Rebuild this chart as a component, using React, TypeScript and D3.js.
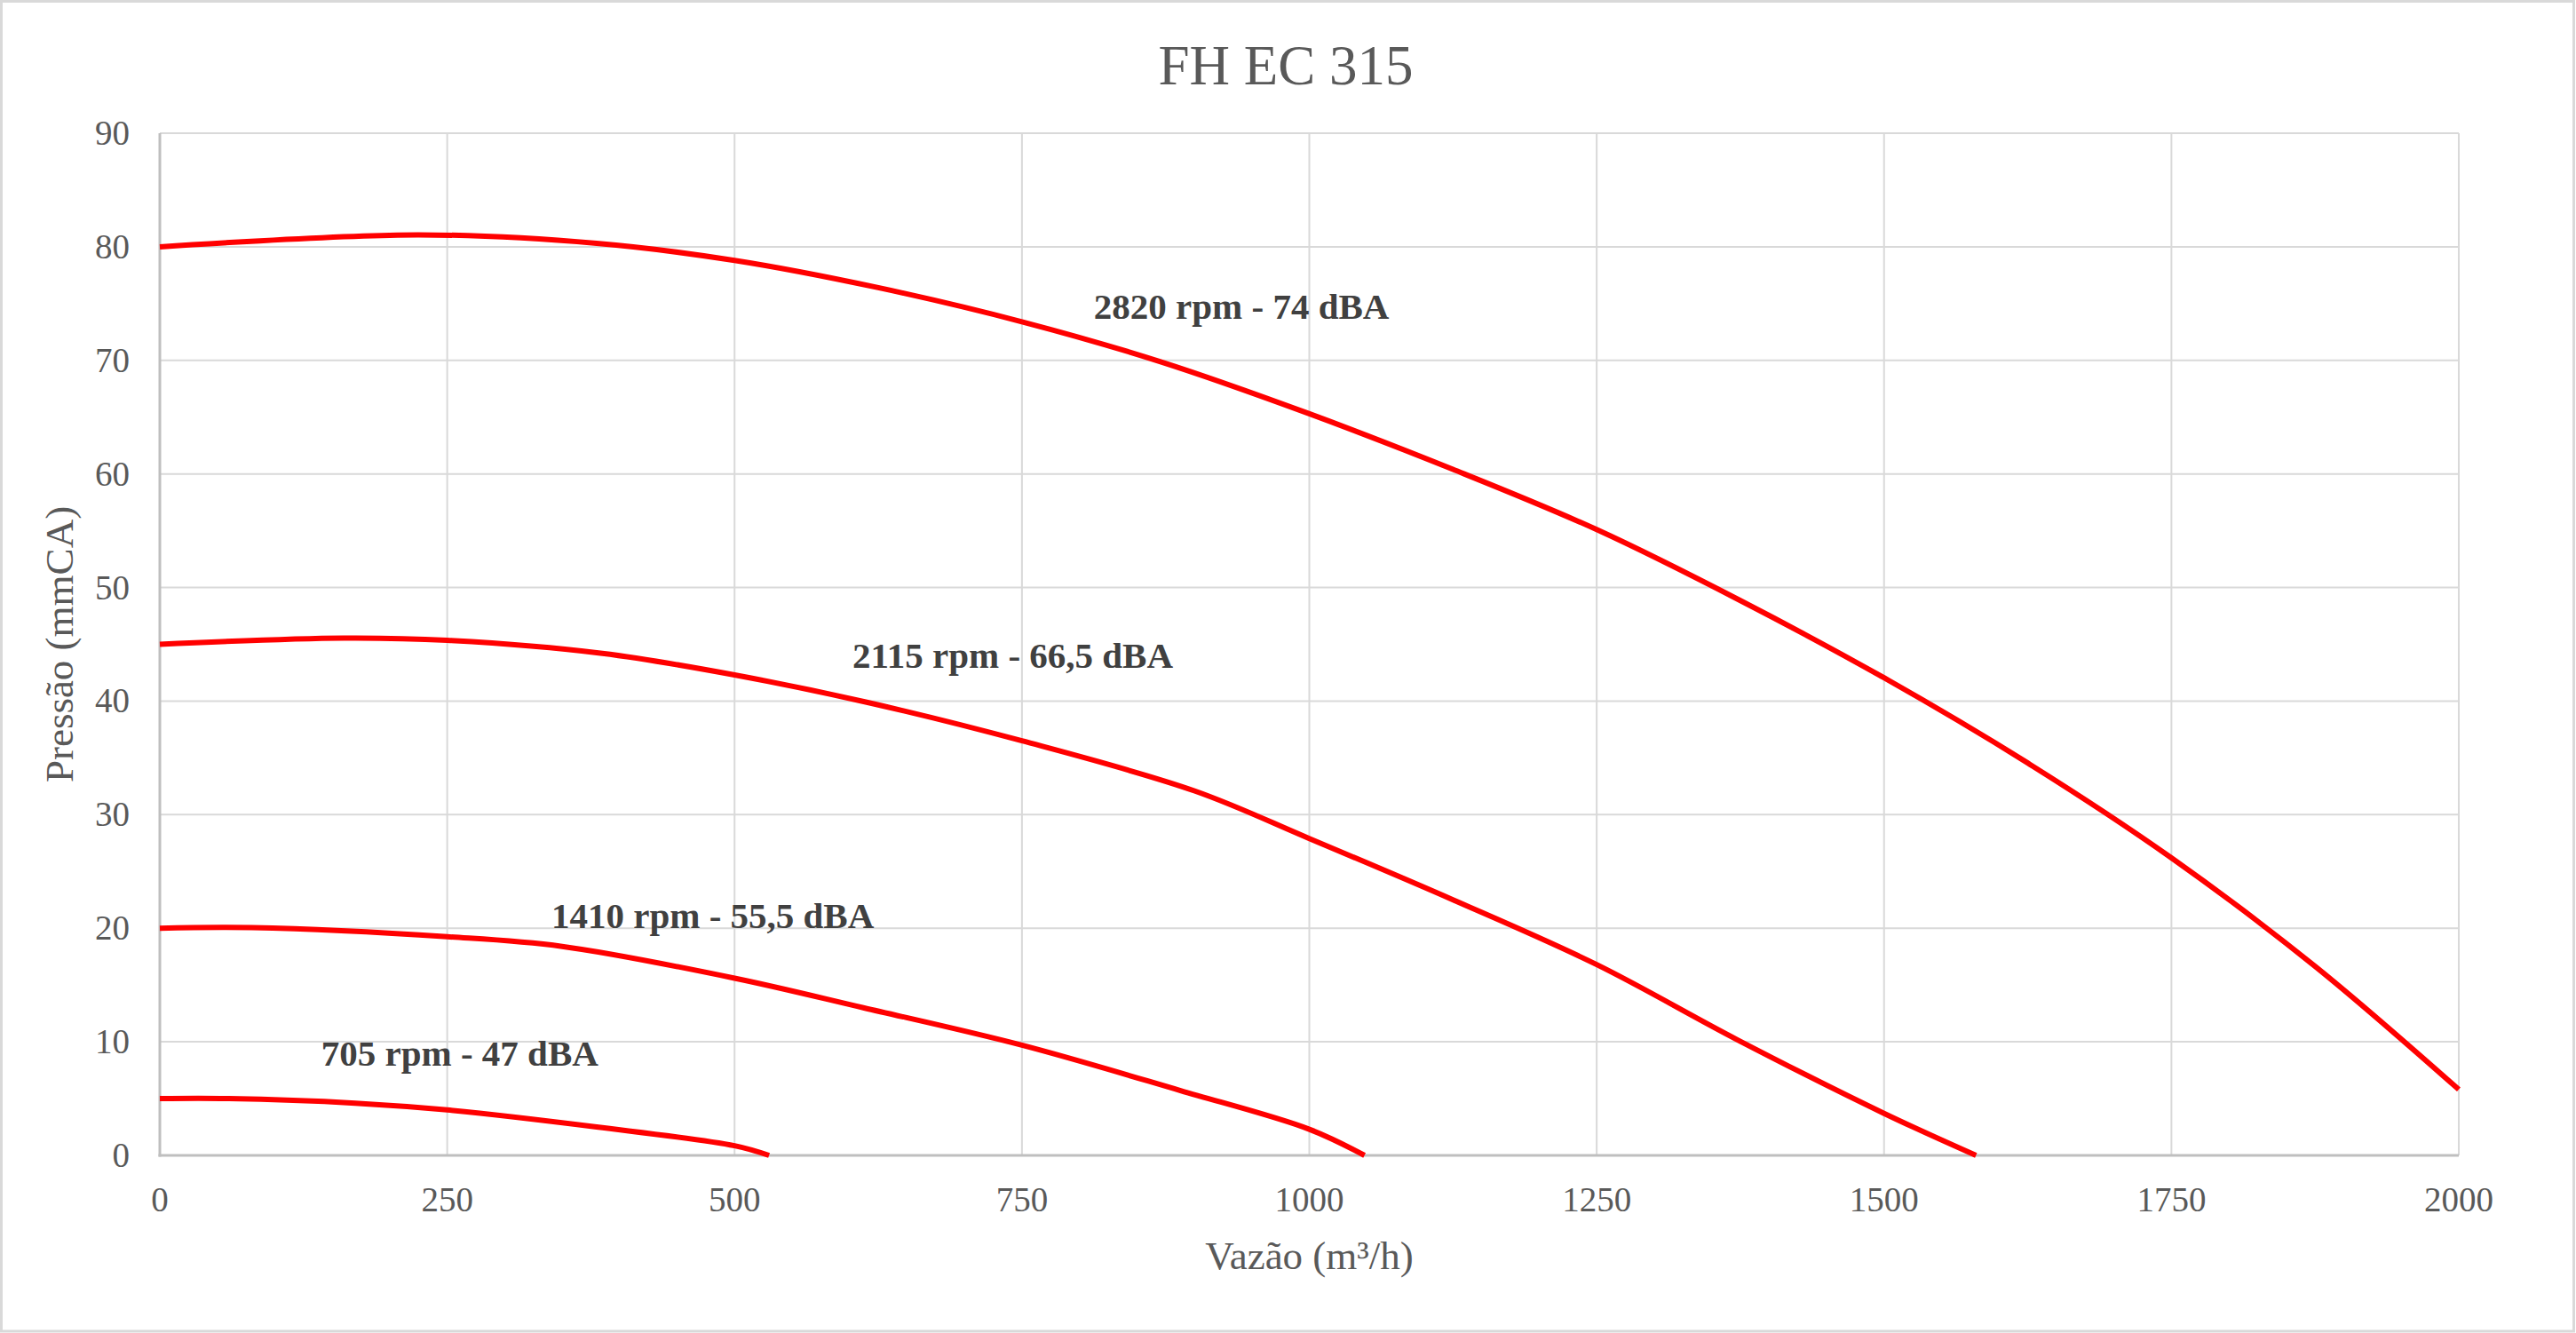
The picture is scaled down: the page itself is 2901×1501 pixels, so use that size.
import { useEffect, useRef } from 'react';
import * as d3 from 'd3';

// curve readings (vazão m³/h -> pressão mmCA)
const flow2820 = [0, 225, 380, 500, 625, 750, 870, 1000, 1125, 1250, 1375, 1500, 1625, 1750, 1875, 2000];
const pres2820 = [80, 81.05, 80.3, 78.8, 76.4, 73.4, 69.9, 65.3, 60.4, 55.1, 48.85, 42.05, 34.55, 26.2, 16.65, 5.8];

const flow2115 = [0, 160, 250, 385, 500, 615, 750, 900, 1000, 1125, 1250, 1372, 1500, 1580];
const pres2115 = [45.0, 45.55, 45.35, 44.2, 42.3, 39.9, 36.5, 32.1, 27.9, 22.5, 16.8, 10.2, 3.7, 0];

const flow1410 = [0, 80, 250, 350, 500, 612, 750, 888, 1000, 1048];
const pres1410 = [20.0, 20.05, 19.25, 18.4, 15.6, 13.0, 9.7, 5.7, 2.3, 0];

const flow705 = [0, 60, 170, 250, 380, 500, 530];
const pres705 = [5.0, 5.0, 4.6, 4.0, 2.5, 0.85, 0];

const seriesLabels = ['2820 rpm - 74 dBA', '2115 rpm - 66,5 dBA', '1410 rpm - 55,5 dBA', '705 rpm - 47 dBA'];

const xTicks = [0, 250, 500, 750, 1000, 1250, 1500, 1750, 2000];
const yTicks = [0, 10, 20, 30, 40, 50, 60, 70, 80, 90];

const chartTitle = 'FH EC 315';
const xTitle = 'Vazão (m³/h)';
const yTitle = 'Pressão (mmCA)';

export default function App() {
  const svgRef = useRef<SVGSVGElement>(null);

  useEffect(() => {
    if (!svgRef.current) return;
    document.body.style.margin = '0';

    const width = 2901;
    const height = 1501;
    const margin = { top: 150, right: 132, bottom: 200, left: 180 };
    const font = '"Liberation Serif", "Times New Roman", serif';

    const svg = d3.select(svgRef.current);
    svg.selectAll('*').remove();
    svg.attr('width', width).attr('height', height);

    svg.append('rect')
      .attr('x', 1.5).attr('y', 1.5)
      .attr('width', width - 4).attr('height', height - 3.5)
      .attr('fill', '#fff')
      .attr('stroke', '#d9d9d9')
      .attr('stroke-width', 3);

    const x = d3.scaleLinear().domain([0, 2000]).range([margin.left, width - margin.right]);
    const y = d3.scaleLinear().domain([0, 90]).range([height - margin.bottom, margin.top]);

    // gridlines
    svg.append('g')
      .selectAll('line')
      .data(yTicks.filter(t => t > 0))
      .join('line')
      .attr('x1', x(0)).attr('x2', x(2000))
      .attr('y1', d => y(d)).attr('y2', d => y(d))
      .attr('stroke', '#d9d9d9').attr('stroke-width', 2);

    svg.append('g')
      .selectAll('line')
      .data(xTicks.filter(t => t > 0))
      .join('line')
      .attr('x1', d => x(d)).attr('x2', d => x(d))
      .attr('y1', y(0)).attr('y2', y(90))
      .attr('stroke', '#d9d9d9').attr('stroke-width', 2);

    // axis lines
    svg.append('line')
      .attr('x1', x(0)).attr('x2', x(0)).attr('y1', y(0) + 1.5).attr('y2', y(90))
      .attr('stroke', '#bfbfbf').attr('stroke-width', 3);
    svg.append('line')
      .attr('x1', x(0) - 1.5).attr('x2', x(2000)).attr('y1', y(0)).attr('y2', y(0))
      .attr('stroke', '#bfbfbf').attr('stroke-width', 3);

    // tick labels
    svg.append('g')
      .selectAll('text')
      .data(xTicks)
      .join('text')
      .attr('x', d => x(d))
      .attr('y', y(0) + 63)
      .attr('text-anchor', 'middle')
      .style('font-family', font)
      .style('font-size', '39px')
      .style('fill', '#595959')
      .text(d => String(d));

    svg.append('g')
      .selectAll('text')
      .data(yTicks)
      .join('text')
      .attr('x', x(0) - 34)
      .attr('y', d => y(d) + 13)
      .attr('text-anchor', 'end')
      .style('font-family', font)
      .style('font-size', '39px')
      .style('fill', '#595959')
      .text(d => String(d));

    // curves
    const series = [
      { xs: flow2820, ys: pres2820 },
      { xs: flow2115, ys: pres2115 },
      { xs: flow1410, ys: pres1410 },
      { xs: flow705, ys: pres705 },
    ];

    const line = d3.line<[number, number]>()
      .x(d => x(d[0]))
      .y(d => y(d[1]))
      .curve(d3.curveCatmullRom.alpha(0.5));

    svg.append('g')
      .selectAll('path')
      .data(series)
      .join('path')
      .attr('d', s => line(s.xs.map((v, i) => [v, s.ys[i]] as [number, number])))
      .attr('fill', 'none')
      .attr('stroke', '#ff0000')
      .attr('stroke-width', 6)
      .attr('stroke-linecap', 'butt');

    // curve labels, anchored in data units
    const labelAt = [
      [941, 73.65],
      [742, 42.9],
      [481, 20.0],
      [261, 7.9],
    ];
    svg.append('g')
      .selectAll('text')
      .data(seriesLabels)
      .join('text')
      .attr('x', (_, i) => x(labelAt[i][0]))
      .attr('y', (_, i) => y(labelAt[i][1]))
      .attr('text-anchor', 'middle')
      .style('font-family', font)
      .style('font-size', '41px')
      .style('font-weight', 'bold')
      .style('fill', '#404040')
      .text(d => d);

    // titles
    svg.append('text')
      .attr('x', 1448)
      .attr('y', 95)
      .attr('text-anchor', 'middle')
      .style('font-family', font)
      .style('font-size', '63px')
      .style('fill', '#595959')
      .text(chartTitle);

    svg.append('text')
      .attr('x', (x(0) + x(2000)) / 2)
      .attr('y', 1429)
      .attr('text-anchor', 'middle')
      .style('font-family', font)
      .style('font-size', '45px')
      .style('fill', '#595959')
      .text(xTitle);

    svg.append('text')
      .attr('transform', `translate(82,${(y(0) + y(90)) / 2}) rotate(-90)`)
      .attr('text-anchor', 'middle')
      .style('font-family', font)
      .style('font-size', '45px')
      .style('fill', '#595959')
      .text(yTitle);
  }, []);

  return (
    <div>
      <svg ref={svgRef} style={{ display: 'block' }}></svg>
    </div>
  );
}
